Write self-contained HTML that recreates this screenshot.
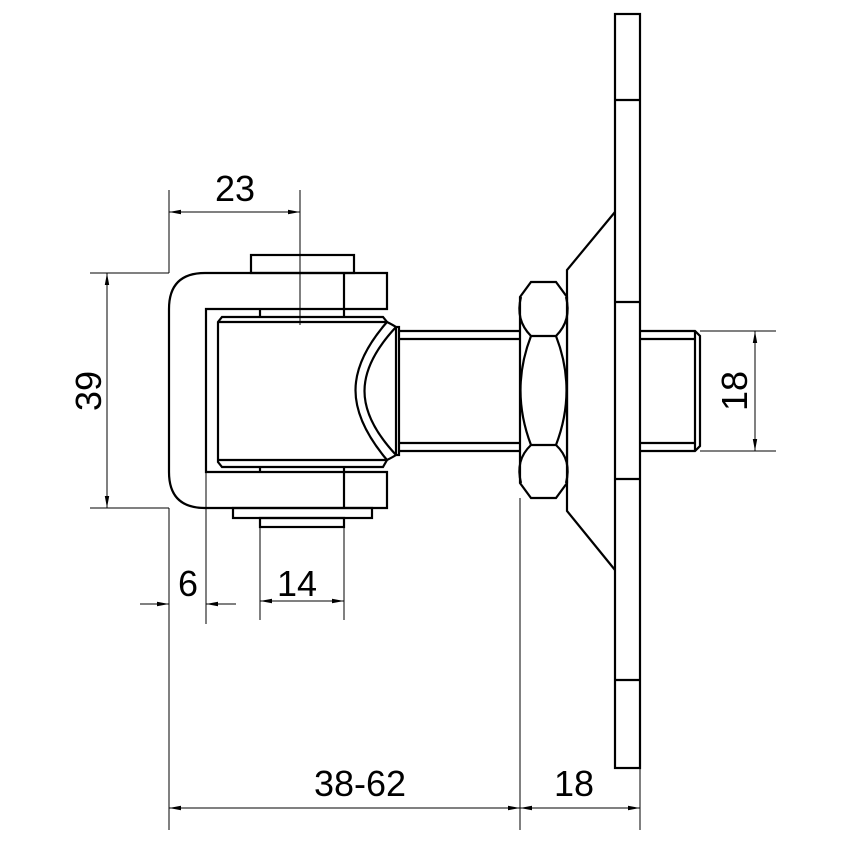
<!DOCTYPE html>
<html><head><style>body{margin:0;background:#fff}svg{display:block}</style></head><body>
<svg width="850" height="850" viewBox="0 0 850 850" xmlns="http://www.w3.org/2000/svg">
<defs>
<marker id="a" viewBox="0 0 12 6" refX="12" refY="3" markerWidth="12" markerHeight="6" orient="auto-start-reverse" markerUnits="userSpaceOnUse"><path d="M0,0.8 L12,3 L0,5.2 Z" fill="#000"/></marker>
</defs>
<g fill="none" stroke="#000" stroke-width="2.2">
<rect x="615" y="14" width="25" height="754"/>
<line x1="615" y1="100" x2="640" y2="100"/>
<line x1="615" y1="302" x2="640" y2="302"/>
<line x1="615" y1="479" x2="640" y2="479"/>
<line x1="615" y1="680" x2="640" y2="680"/>
<path d="M615,212 L567,270 L567,511 L615,570"/>
<path d="M640,331 L695,331 L700,336 L700,446 L695,451 L640,451"/>
<line x1="695" y1="331" x2="695" y2="451"/>
<line x1="640" y1="339" x2="695" y2="339"/>
<line x1="640" y1="443" x2="695" y2="443"/>
<path d="M398,331 L520,331 M398,451 L520,451 M398,339 L520,339 M398,443 L520,443"/>
<path d="M531,282 L556,282 L567,297 L567,483 L556,498 L531,498 L520,483 L520,297 Z" fill="#fff"/>
<path d="M521,297 Q515,320 531,336 L556,336 Q572,320 566,297"/>
<path d="M531,336 Q510,390 531,445 M556,336 Q577,390 556,445"/>
<path d="M531,445 L556,445 M521,483 Q515,460 531,445 M566,483 Q572,460 556,445"/>
<path d="M387,273 L205,273 Q169,273 169,309 L169,472 Q169,508 205,508 L387,508 L387,472 L206,472 L206,309 L387,309 Z"/>
<line x1="344" y1="273" x2="344" y2="309"/>
<line x1="344" y1="472" x2="344" y2="508"/>
<rect x="251" y="255" width="103" height="18"/>
<rect x="233" y="508" width="139" height="10"/>
<rect x="260" y="518" width="84" height="9"/>
<path d="M222,317 L383,317 L387,322 C345,370 345,410 387,460 L383,467 L222,467 L218,462 L218,322 Z"/>
<line x1="218" y1="322" x2="387" y2="322"/>
<line x1="218" y1="460" x2="387" y2="460"/>
<line x1="260" y1="309" x2="260" y2="317"/>
<line x1="344" y1="309" x2="344" y2="317"/>
<line x1="260" y1="467" x2="260" y2="472"/>
<line x1="344" y1="467" x2="344" y2="472"/>
<path d="M387,322 Q393,325 396,327 M387,460 Q393,457 396,455"/>
<path d="M396,327 C354,372 354,410 396,455"/>
<rect x="396" y="327" width="3" height="128"/>
</g>
<g fill="none" stroke="#000" stroke-width="1">
<line x1="169" y1="190" x2="169" y2="273"/>
<line x1="300" y1="190" x2="300" y2="325"/>
<line x1="169" y1="212" x2="300" y2="212" marker-start="url(#a)" marker-end="url(#a)"/>
<line x1="90" y1="273" x2="169" y2="273"/>
<line x1="90" y1="508" x2="169" y2="508"/>
<line x1="107" y1="273" x2="107" y2="508" marker-start="url(#a)" marker-end="url(#a)"/>
<line x1="169" y1="508" x2="169" y2="830"/>
<line x1="206" y1="472" x2="206" y2="624"/>
<line x1="140" y1="604" x2="169" y2="604" marker-end="url(#a)"/>
<line x1="236" y1="604" x2="206" y2="604" marker-end="url(#a)"/>
<line x1="260" y1="527" x2="260" y2="620"/>
<line x1="344" y1="527" x2="344" y2="620"/>
<line x1="260" y1="601" x2="344" y2="601" marker-start="url(#a)" marker-end="url(#a)"/>
<line x1="520" y1="498" x2="520" y2="830"/>
<line x1="640" y1="768" x2="640" y2="830"/>
<line x1="169" y1="808" x2="520" y2="808" marker-start="url(#a)" marker-end="url(#a)"/>
<line x1="520" y1="808" x2="640" y2="808" marker-start="url(#a)" marker-end="url(#a)"/>
<line x1="700" y1="331" x2="776" y2="331"/>
<line x1="700" y1="451" x2="776" y2="451"/>
<line x1="755" y1="331" x2="755" y2="451" marker-start="url(#a)" marker-end="url(#a)"/>
</g>
<g font-family="Liberation Sans, sans-serif" font-size="36" fill="#000" text-anchor="middle">
<text x="235" y="201">23</text>
<text x="188" y="596">6</text>
<text x="297" y="596">14</text>
<text x="360" y="796">38-62</text>
<text x="574" y="796">18</text>
<text transform="translate(101,391) rotate(-90)">39</text>
<text transform="translate(747,391) rotate(-90)">18</text>
</g>
</svg>
</body></html>
